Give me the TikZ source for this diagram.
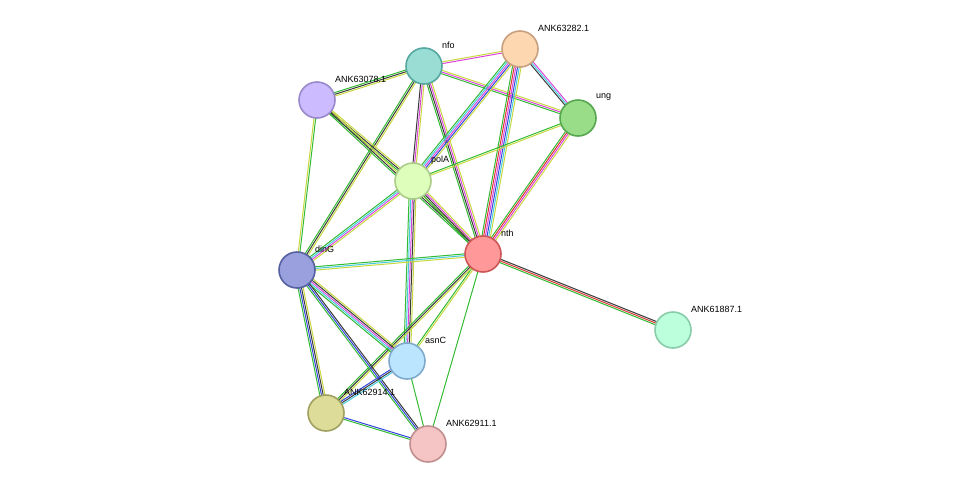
\documentclass[tikz,border=0pt]{standalone}
\usepackage{fontspec}
\setmainfont{Liberation Sans}
\usetikzlibrary{calc}
\definecolor{xg}{HTML}{33BB33}
\definecolor{xy}{HTML}{C8D840}
\definecolor{xk}{HTML}{3A3A3A}
\definecolor{xm}{HTML}{DD44DD}
\definecolor{xb}{HTML}{3344DD}
\definecolor{xc}{HTML}{44CCDD}
\definecolor{xr}{HTML}{DD3333}
\newcommand\edg[4]{%
  \foreach \c [count=\i] in {#4}{%
    \pgfmathsetmacro\off{(\i-(#3+1)/2)*1.7}%
    \draw[draw=\c,line width=1pt] ($(#1)!\off pt!90:(#2)$) -- ($(#2)!\off pt!-90:(#1)$);
  }}
\tikzset{prot/.style={circle,minimum size=36pt,inner sep=0pt,line width=1.6pt},
  lab/.style={anchor=west,font=\fontsize{9}{10}\selectfont,inner sep=0pt}}
\begin{document}
\begin{tikzpicture}[x=1pt,y=-1pt]
\useasboundingbox (0,0) rectangle (976,490);
\coordinate (nfo) at (424,66);
\coordinate (a3282) at (520,49);
\coordinate (ung) at (578,118);
\coordinate (a3078) at (317,100);
\coordinate (polA) at (413,181);
\coordinate (nth) at (483,254);
\coordinate (dinG) at (297,270);
\coordinate (a1887) at (673,330);
\coordinate (asnC) at (407,361);
\coordinate (a2914) at (326,413);
\coordinate (a2911) at (428,444);
\edg{nfo}{a3282}{2}{xm,xy}
\edg{nfo}{ung}{3}{xg,xm,xy}
\edg{nfo}{a3078}{3}{xg,xk,xy}
\edg{nfo}{polA}{3}{xk,xm,xy}
\edg{nfo}{nth}{4}{xg,xk,xm,xy}
\edg{nfo}{dinG}{3}{xg,xk,xy}
\edg{a3282}{ung}{3}{xk,xc,xm}
\edg{a3282}{polA}{5}{xg,xc,xm,xb,xy}
\edg{a3282}{nth}{6}{xg,xr,xm,xb,xc,xy}
\edg{a3078}{polA}{3}{xg,xk,xy}
\edg{a3078}{nth}{3}{xg,xk,xy}
\edg{a3078}{dinG}{2}{xy,xg}
\edg{ung}{polA}{2}{xg,xy}
\edg{ung}{nth}{4}{xg,xr,xm,xy}
\edg{polA}{nth}{4}{xg,xk,xm,xy}
\edg{polA}{dinG}{4}{xg,xc,xm,xy}
\edg{polA}{asnC}{5}{xg,xc,xm,xk,xy}
\edg{nth}{dinG}{3}{xg,xc,xy}
\edg{nth}{a1887}{3}{xg,xr,xk}
\edg{nth}{asnC}{2}{xg,xy}
\edg{nth}{a2914}{3}{xg,xk,xy}
\edg{nth}{a2911}{1}{xg}
\edg{dinG}{asnC}{5}{xg,xc,xm,xk,xy}
\edg{dinG}{a2914}{4}{xg,xb,xk,xy}
\edg{dinG}{a2911}{3}{xg,xb,xk}
\edg{asnC}{a2914}{3}{xb,xk,xc}
\edg{asnC}{a2911}{1}{xg}
\edg{a2914}{a2911}{2}{xg,xb}
\foreach \n/\f/\d/\t in {nfo/99DDD5/55A8A0/nfo, a3282/FCD7B0/C8A080/ANK63282.1, ung/99DD88/55A850/ung,
  a3078/CCBBFF/9988CC/ANK63078.1, polA/DDFFBB/AACC88/polA, nth/FF9999/CC5555/nth,
  dinG/99A0DD/5560A0/dinG, a1887/BBFFDD/88CCAA/ANK61887.1, asnC/BBE5FF/80AACC/asnC,
  a2914/DDDD99/A0A060/ANK62914.1, a2911/F5C5C5/C09090/ANK62911.1}{
  \definecolor{nf}{HTML}{\f}\definecolor{nd}{HTML}{\d}
  \node[prot,fill=nf,draw=nd] (\n n) at (\n) {};
  \node[lab] (\n l) at ($(\n)+(18,-21)$) {\t};
}
\end{tikzpicture}
\end{document}
